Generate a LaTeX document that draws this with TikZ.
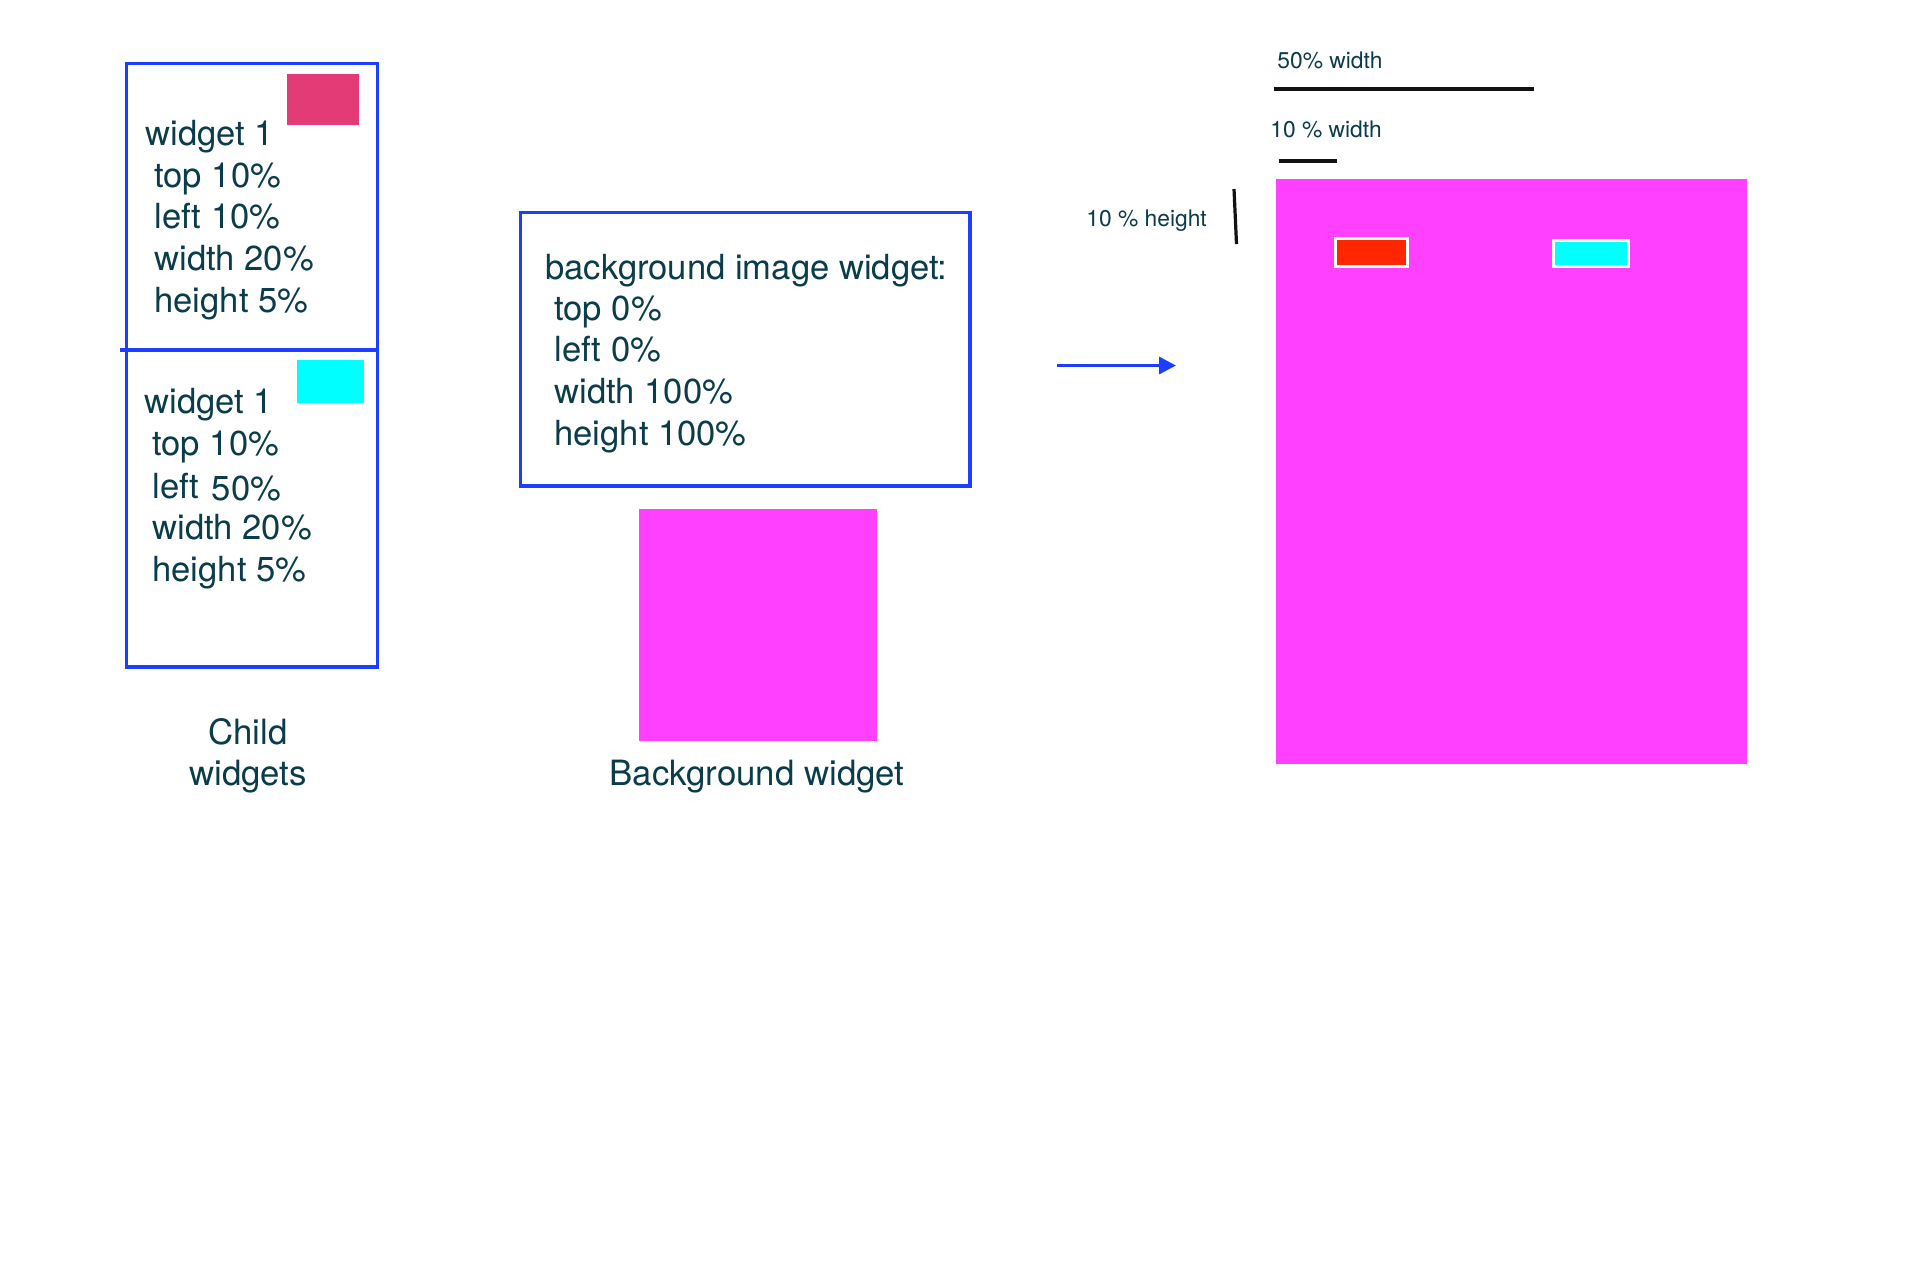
\documentclass[tikz,border=0pt]{standalone}
\usepackage{fontspec}
\setmainfont{TeX Gyre Heros}
\usetikzlibrary{arrows.meta}
\definecolor{tealdark}{RGB}{10,60,74}
\definecolor{boxblue}{RGB}{28,62,255}
\definecolor{rosered}{RGB}{227,59,118}
\definecolor{aqua}{RGB}{0,255,255}
\definecolor{magentabg}{RGB}{255,64,255}
\definecolor{redw}{RGB}{255,38,0}
\tikzset{
  txt/.style={font=\fontsize{17.3}{20}\selectfont, text=tealdark, inner sep=0pt, anchor=base west},
  smalltxt/.style={font=\fontsize{11.4}{13}\selectfont, text=tealdark, inner sep=0pt, anchor=base west},
  captxt/.style={font=\fontsize{17.4}{20}\selectfont, text=tealdark, inner sep=0pt, anchor=base},
  bluebox/.style={draw=boxblue, line width=1.65pt},
  blackline/.style={draw=black!93, line width=1.6pt},
}
\begin{document}
\begin{tikzpicture}[x=0.5pt,y=-0.5pt]
\useasboundingbox[fill=white] (0,0) rectangle (1920,1280);
% child widgets box
\draw[bluebox] (126.5,63.5) rectangle (377.5,667);
\draw[bluebox] (120,350) -- (377.5,350);
\fill[rosered] (287,74) rectangle (359,124.5);
\fill[aqua] (297,360) rectangle (364,403);
\node[txt] (w1a) at (145,145) {widget 1};
\node[txt] (w1b) at (154,187) {top 10\%};
\node[txt] (w1c) at (154,228.5) {left 10\%};
\node[txt] (w1d) at (154,270) {width 20\%};
\node[txt] (w1e) at (154,312) {height 5\%};
\node[txt] (w2a) at (144,413.5) {widget 1};
\node[txt] (w2b) at (152,455) {top 10\%};
\node[txt] (w2c) at (152,498) {left};
\node[txt] (w2cc) at (211.5,500) {50\%};
\node[txt] (w2d) at (152,539.5) {width 20\%};
\node[txt] (w2e) at (152,581.5) {height 5\%};
\node[captxt] (cap1) at (248,744) {Child};
\node[captxt] (cap2) at (248,785) {widgets};
% background image widget box
\draw[bluebox] (520.5,212.5) rectangle (970,486);
\node[txt] (b1) at (545,279) {background image widget:};
\node[txt] (b2) at (554,320) {top 0\%};
\node[txt] (b3) at (554,361.5) {left 0\%};
\node[txt] (b4) at (554,403.5) {width 100\%};
\node[txt] (b5) at (554,445.5) {height 100\%};
\fill[magentabg] (639,509) rectangle (877,741);
\node[captxt] (cap3) at (757,785) {Background widget};
% arrow
\coordinate (arrS) at (1057,365.5);
\coordinate (arrE) at (1176,365.5);
\draw[draw=boxblue, line width=1.6pt, -{Triangle[length=8.5pt,width=8.5pt]}] (arrS) -- (arrE);
% result
\node[smalltxt] (t50) at (1277,68.5) {50\% width};
\coordinate (l50a) at (1273.5,89);
\coordinate (l50b) at (1534,89);
\draw[blackline] (l50a) -- (l50b);
\node[smalltxt] (t10) at (1270,137) {10 \% width};
\coordinate (l10a) at (1278.5,161);
\coordinate (l10b) at (1337,161);
\draw[blackline] (l10a) -- (l10b);
\node[smalltxt] (th) at (1086,226.5) {10 \% height};
\coordinate (lha) at (1234,189);
\coordinate (lhb) at (1236.5,244);
\draw[blackline] (lha) -- (lhb);
\fill[magentabg] (1275.5,179) rectangle (1747,764);
\draw[white, line width=1.6pt, fill=redw] (1335.5,238.5) rectangle (1407.5,266.5);
\draw[white, line width=1.6pt, fill=aqua] (1553.5,240.5) rectangle (1628.5,266.5);
\end{tikzpicture}
\end{document}
